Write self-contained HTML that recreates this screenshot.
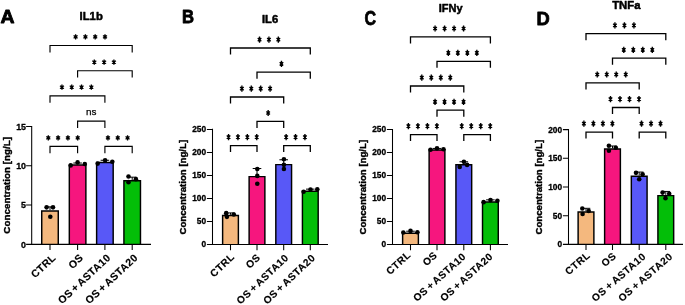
<!DOCTYPE html><html><head><meta charset="utf-8"><title>fig</title><style>
html,body{margin:0;padding:0;background:#fff;}svg{display:block}
text{font-family:"Liberation Sans",sans-serif;fill:#000}
.b{font-weight:bold;stroke:#000;stroke-width:0.3px;stroke-linejoin:round}
</style></head><body>
<svg width="685" height="305" viewBox="0 0 685 305" style="will-change:transform">
<rect width="685" height="305" fill="#fff"/>
<g>
<text class="b" transform="translate(0.5 23.2) scale(1.05 1)" font-size="18.5" style="stroke-width:0.8px">A</text>
<text class="b" x="91.2" y="19.8" font-size="11.3" style="stroke-width:0.5px" text-anchor="middle">IL1b</text>
<path d="M41.73 244.35V210.9H58.27V244.35" fill="#F4B87E" stroke="#000" stroke-width="1.45"/>
<path d="M50 206.87V210.17M45.7 206.87H54.3" stroke="#000" stroke-width="1" fill="none"/>
<circle cx="46.6" cy="207.35" r="2.3" fill="#000"/>
<circle cx="53" cy="207.35" r="2.3" fill="#000"/>
<circle cx="50.3" cy="216.69" r="2.3" fill="#000"/>
<path d="M69.32 244.35V164.94H85.88V244.35" fill="#F6167E" stroke="#000" stroke-width="1.45"/>
<path d="M77.6 163.03V164.21M73.3 163.03H81.9" stroke="#000" stroke-width="1" fill="none"/>
<circle cx="70.7" cy="165.39" r="2.3" fill="#000"/>
<circle cx="77.6" cy="162.4" r="2.3" fill="#000"/>
<circle cx="84.8" cy="164.05" r="2.3" fill="#000"/>
<path d="M96.62 244.35V162.58H113.18V244.35" fill="#5858F7" stroke="#000" stroke-width="1.45"/>
<path d="M104.9 160.28V161.85M100.6 160.28H109.2" stroke="#000" stroke-width="1" fill="none"/>
<circle cx="97.7" cy="163.58" r="2.3" fill="#000"/>
<circle cx="105.1" cy="160.36" r="2.3" fill="#000"/>
<circle cx="112.3" cy="161.7" r="2.3" fill="#000"/>
<path d="M123.92 244.35V180.65H140.47V244.35" fill="#03BE08" stroke="#000" stroke-width="1.45"/>
<path d="M132.2 177.18V179.93M127.9 177.18H136.5" stroke="#000" stroke-width="1" fill="none"/>
<circle cx="128.5" cy="176.47" r="2.3" fill="#000"/>
<circle cx="128.5" cy="182.13" r="2.3" fill="#000"/>
<circle cx="135.9" cy="179.14" r="2.3" fill="#000"/>
<path d="M31.7 125.9V244.35M31.1 244.35H151M26.1 244.35H31.7M26.1 205.07H31.7M26.1 165.78H31.7M26.1 126.5H31.7M50 244.35V250.05M77.6 244.35V250.05M104.9 244.35V250.05M132.2 244.35V250.05" stroke="#000" stroke-width="1.05" fill="none"/>
<text class="b" x="26" y="247.55" font-size="8.9" text-anchor="end">0</text>
<text class="b" x="26" y="208.27" font-size="8.9" text-anchor="end">5</text>
<text class="b" x="26" y="168.99" font-size="8.9" text-anchor="end">10</text>
<text class="b" x="26" y="129.7" font-size="8.9" text-anchor="end">15</text>
<text class="b" transform="translate(9.5 185.3) rotate(-90)" font-size="9.85" style="stroke-width:0.4px" text-anchor="middle">Concentration [ng/L]</text>
<text class="b" transform="translate(56.4 258.55) rotate(-43)" font-size="10.5" letter-spacing="0.35" word-spacing="-1.3" style="stroke-width:0.15px" text-anchor="end">CTRL</text>
<text class="b" transform="translate(84 258.55) rotate(-43)" font-size="10.5" letter-spacing="0.35" word-spacing="-1.3" style="stroke-width:0.15px" text-anchor="end">OS</text>
<text class="b" transform="translate(111.3 258.55) rotate(-43)" font-size="10.5" letter-spacing="0.35" word-spacing="-1.3" style="stroke-width:0.15px" text-anchor="end">OS + ASTA10</text>
<text class="b" transform="translate(138.6 258.55) rotate(-43)" font-size="10.5" letter-spacing="0.35" word-spacing="-1.3" style="stroke-width:0.15px" text-anchor="end">OS + ASTA20</text>
<path d="M50 52.4V45.5H132.2V52.4" stroke="#000" stroke-width="1.15" fill="none"/>
<path d="M75.6 34.25V39.55M73.6 35.52L77.6 38.28M73.6 38.28L77.6 35.52" stroke="#000" stroke-width="1.3" fill="none"/><circle cx="75.6" cy="36.9" r="1.3"/>
<path d="M85.4 34.25V39.55M83.4 35.52L87.4 38.28M83.4 38.28L87.4 35.52" stroke="#000" stroke-width="1.3" fill="none"/><circle cx="85.4" cy="36.9" r="1.3"/>
<path d="M95.2 34.25V39.55M93.2 35.52L97.2 38.28M93.2 38.28L97.2 35.52" stroke="#000" stroke-width="1.3" fill="none"/><circle cx="95.2" cy="36.9" r="1.3"/>
<path d="M105 34.25V39.55M103 35.52L107 38.28M103 38.28L107 35.52" stroke="#000" stroke-width="1.3" fill="none"/><circle cx="105" cy="36.9" r="1.3"/>
<path d="M77.6 77.6V70.7H132.2V77.6" stroke="#000" stroke-width="1.15" fill="none"/>
<path d="M94.3 59.45V64.75M92.3 60.72L96.3 63.48M92.3 63.48L96.3 60.72" stroke="#000" stroke-width="1.3" fill="none"/><circle cx="94.3" cy="62.1" r="1.3"/>
<path d="M104.1 59.45V64.75M102.1 60.72L106.1 63.48M102.1 63.48L106.1 60.72" stroke="#000" stroke-width="1.3" fill="none"/><circle cx="104.1" cy="62.1" r="1.3"/>
<path d="M113.9 59.45V64.75M111.9 60.72L115.9 63.48M111.9 63.48L115.9 60.72" stroke="#000" stroke-width="1.3" fill="none"/><circle cx="113.9" cy="62.1" r="1.3"/>
<path d="M50 102.7V95.8H104.9V102.7" stroke="#000" stroke-width="1.15" fill="none"/>
<path d="M61.95 84.55V89.85M59.95 85.82L63.95 88.58M59.95 88.58L63.95 85.82" stroke="#000" stroke-width="1.3" fill="none"/><circle cx="61.95" cy="87.2" r="1.3"/>
<path d="M71.75 84.55V89.85M69.75 85.82L73.75 88.58M69.75 88.58L73.75 85.82" stroke="#000" stroke-width="1.3" fill="none"/><circle cx="71.75" cy="87.2" r="1.3"/>
<path d="M81.55 84.55V89.85M79.55 85.82L83.55 88.58M79.55 88.58L83.55 85.82" stroke="#000" stroke-width="1.3" fill="none"/><circle cx="81.55" cy="87.2" r="1.3"/>
<path d="M91.35 84.55V89.85M89.35 85.82L93.35 88.58M89.35 88.58L93.35 85.82" stroke="#000" stroke-width="1.3" fill="none"/><circle cx="91.35" cy="87.2" r="1.3"/>
<path d="M77.6 128V121.1H104.9V128" stroke="#000" stroke-width="1.15" fill="none"/>
<text x="91.25" y="115.4" font-size="9.9" stroke="#000" stroke-width="0.25" text-anchor="middle">ns</text>
<path d="M50 153.3V146.4H77.6V153.3" stroke="#000" stroke-width="1.15" fill="none"/>
<path d="M48.3 135.15V140.45M46.3 136.42L50.3 139.18M46.3 139.18L50.3 136.42" stroke="#000" stroke-width="1.3" fill="none"/><circle cx="48.3" cy="137.8" r="1.3"/>
<path d="M58.1 135.15V140.45M56.1 136.42L60.1 139.18M56.1 139.18L60.1 136.42" stroke="#000" stroke-width="1.3" fill="none"/><circle cx="58.1" cy="137.8" r="1.3"/>
<path d="M67.9 135.15V140.45M65.9 136.42L69.9 139.18M65.9 139.18L69.9 136.42" stroke="#000" stroke-width="1.3" fill="none"/><circle cx="67.9" cy="137.8" r="1.3"/>
<path d="M77.7 135.15V140.45M75.7 136.42L79.7 139.18M75.7 139.18L79.7 136.42" stroke="#000" stroke-width="1.3" fill="none"/><circle cx="77.7" cy="137.8" r="1.3"/>
<path d="M104.9 153.3V146.4H132.2V153.3" stroke="#000" stroke-width="1.15" fill="none"/>
<path d="M107.95 135.15V140.45M105.95 136.42L109.95 139.18M105.95 139.18L109.95 136.42" stroke="#000" stroke-width="1.3" fill="none"/><circle cx="107.95" cy="137.8" r="1.3"/>
<path d="M117.75 135.15V140.45M115.75 136.42L119.75 139.18M115.75 139.18L119.75 136.42" stroke="#000" stroke-width="1.3" fill="none"/><circle cx="117.75" cy="137.8" r="1.3"/>
<path d="M127.55 135.15V140.45M125.55 136.42L129.55 139.18M125.55 139.18L129.55 136.42" stroke="#000" stroke-width="1.3" fill="none"/><circle cx="127.55" cy="137.8" r="1.3"/>
</g>
<g>
<text class="b" transform="translate(182 23.1) scale(0.92 1)" font-size="18.099999999999998" style="stroke-width:0.8px">B</text>
<text class="b" x="270.1" y="23.3" font-size="11.2" style="stroke-width:0.5px" text-anchor="middle">IL6</text>
<path d="M222.62 244.45V215.49H238.38V244.45" fill="#F4B87E" stroke="#000" stroke-width="1.45"/>
<path d="M230.5 212.93V214.77M226.2 212.93H234.8" stroke="#000" stroke-width="1" fill="none"/>
<circle cx="226.2" cy="213.16" r="2.3" fill="#000"/>
<circle cx="226.9" cy="216.84" r="2.3" fill="#000"/>
<circle cx="233.8" cy="214.54" r="2.3" fill="#000"/>
<path d="M249.12 244.45V176.61H264.88V244.45" fill="#F6167E" stroke="#000" stroke-width="1.45"/>
<path d="M257 168.52V175.88M252.7 168.52H261.3" stroke="#000" stroke-width="1" fill="none"/>
<circle cx="257.3" cy="168.98" r="2.3" fill="#000"/>
<circle cx="257.3" cy="175.88" r="2.3" fill="#000"/>
<circle cx="257.3" cy="183.7" r="2.3" fill="#000"/>
<path d="M275.82 244.45V164.64H291.57V244.45" fill="#5858F7" stroke="#000" stroke-width="1.45"/>
<path d="M283.7 159.77V163.91M279.4 159.77H288" stroke="#000" stroke-width="1" fill="none"/>
<circle cx="283.9" cy="159.31" r="2.3" fill="#000"/>
<circle cx="283.9" cy="164.84" r="2.3" fill="#000"/>
<circle cx="283.9" cy="168.98" r="2.3" fill="#000"/>
<path d="M302.43 244.45V191.24H318.18V244.45" fill="#03BE08" stroke="#000" stroke-width="1.45"/>
<path d="M310.3 189.13V190.51M306 189.13H314.6" stroke="#000" stroke-width="1" fill="none"/>
<circle cx="303.6" cy="191.76" r="2.3" fill="#000"/>
<circle cx="310.5" cy="189.46" r="2.3" fill="#000"/>
<circle cx="317.3" cy="189.23" r="2.3" fill="#000"/>
<path d="M212.5 128.8V244.45M211.9 244.45H328M206.9 244.45H212.5M206.9 221.44H212.5M206.9 198.43H212.5M206.9 175.42H212.5M206.9 152.41H212.5M206.9 129.4H212.5M230.5 244.45V250.15M257 244.45V250.15M283.7 244.45V250.15M310.3 244.45V250.15" stroke="#000" stroke-width="1.05" fill="none"/>
<text class="b" x="206" y="247.44" font-size="8.3" text-anchor="end">0</text>
<text class="b" x="206" y="224.43" font-size="8.3" text-anchor="end">50</text>
<text class="b" x="206" y="201.42" font-size="8.3" text-anchor="end">100</text>
<text class="b" x="206" y="178.41" font-size="8.3" text-anchor="end">150</text>
<text class="b" x="206" y="155.4" font-size="8.3" text-anchor="end">200</text>
<text class="b" x="206" y="132.39" font-size="8.3" text-anchor="end">250</text>
<text class="b" transform="translate(186.4 187.2) rotate(-90)" font-size="9.65" style="stroke-width:0.4px" text-anchor="middle">Concentration [ng/L]</text>
<text class="b" transform="translate(235.1 257.65) rotate(-43.5)" font-size="10.2" letter-spacing="0.5" word-spacing="-1.3" style="stroke-width:0.15px" text-anchor="end">CTRL</text>
<text class="b" transform="translate(261.1 258.15) rotate(-43.5)" font-size="10.2" letter-spacing="0.5" word-spacing="-1.3" style="stroke-width:0.15px" text-anchor="end">OS</text>
<text class="b" transform="translate(289.3 258.45) rotate(-43.5)" font-size="10.2" letter-spacing="0.5" word-spacing="-1.3" style="stroke-width:0.15px" text-anchor="end">OS + ASTA10</text>
<text class="b" transform="translate(315.9 258.45) rotate(-43.5)" font-size="10.2" letter-spacing="0.5" word-spacing="-1.3" style="stroke-width:0.15px" text-anchor="end">OS + ASTA20</text>
<path d="M230.5 54.5V48H310.3V54.5" stroke="#000" stroke-width="1.3" fill="none"/>
<path d="M259.53 36.5V42.7M257.73 37.99L261.33 41.21M257.73 41.21L261.33 37.99" stroke="#000" stroke-width="1.35" fill="none"/><circle cx="259.53" cy="39.6" r="1.1"/>
<path d="M268.93 36.5V42.7M267.13 37.99L270.73 41.21M267.13 41.21L270.73 37.99" stroke="#000" stroke-width="1.35" fill="none"/><circle cx="268.93" cy="39.6" r="1.1"/>
<path d="M278.33 36.5V42.7M276.53 37.99L280.13 41.21M276.53 41.21L280.13 37.99" stroke="#000" stroke-width="1.35" fill="none"/><circle cx="278.33" cy="39.6" r="1.1"/>
<path d="M257 78.7V72.2H310.3V78.7" stroke="#000" stroke-width="1.3" fill="none"/>
<path d="M281.46 60.7V66.9M279.66 62.19L283.26 65.41M279.66 65.41L283.26 62.19" stroke="#000" stroke-width="1.35" fill="none"/><circle cx="281.46" cy="63.8" r="1.1"/>
<path d="M230.5 103.5V97H283.7V103.5" stroke="#000" stroke-width="1.3" fill="none"/>
<path d="M241.89 85.5V91.7M240.09 86.99L243.69 90.21M240.09 90.21L243.69 86.99" stroke="#000" stroke-width="1.35" fill="none"/><circle cx="241.89" cy="88.6" r="1.1"/>
<path d="M251.29 85.5V91.7M249.49 86.99L253.09 90.21M249.49 90.21L253.09 86.99" stroke="#000" stroke-width="1.35" fill="none"/><circle cx="251.29" cy="88.6" r="1.1"/>
<path d="M260.69 85.5V91.7M258.89 86.99L262.49 90.21M258.89 90.21L262.49 86.99" stroke="#000" stroke-width="1.35" fill="none"/><circle cx="260.69" cy="88.6" r="1.1"/>
<path d="M270.09 85.5V91.7M268.29 86.99L271.89 90.21M268.29 90.21L271.89 86.99" stroke="#000" stroke-width="1.35" fill="none"/><circle cx="270.09" cy="88.6" r="1.1"/>
<path d="M257 127.9V121.4H283.7V127.9" stroke="#000" stroke-width="1.3" fill="none"/>
<path d="M268.16 109.9V116.1M266.36 111.39L269.96 114.61M266.36 114.61L269.96 111.39" stroke="#000" stroke-width="1.35" fill="none"/><circle cx="268.16" cy="113" r="1.1"/>
<path d="M230.5 152.1V145.6H257V152.1" stroke="#000" stroke-width="1.3" fill="none"/>
<path d="M228.54 134.1V140.3M226.74 135.59L230.34 138.81M226.74 138.81L230.34 135.59" stroke="#000" stroke-width="1.35" fill="none"/><circle cx="228.54" cy="137.2" r="1.1"/>
<path d="M237.94 134.1V140.3M236.14 135.59L239.74 138.81M236.14 138.81L239.74 135.59" stroke="#000" stroke-width="1.35" fill="none"/><circle cx="237.94" cy="137.2" r="1.1"/>
<path d="M247.34 134.1V140.3M245.54 135.59L249.14 138.81M245.54 138.81L249.14 135.59" stroke="#000" stroke-width="1.35" fill="none"/><circle cx="247.34" cy="137.2" r="1.1"/>
<path d="M256.74 134.1V140.3M254.94 135.59L258.54 138.81M254.94 138.81L258.54 135.59" stroke="#000" stroke-width="1.35" fill="none"/><circle cx="256.74" cy="137.2" r="1.1"/>
<path d="M283.7 152.1V145.6H310.3V152.1" stroke="#000" stroke-width="1.3" fill="none"/>
<path d="M286.13 134.1V140.3M284.33 135.59L287.93 138.81M284.33 138.81L287.93 135.59" stroke="#000" stroke-width="1.35" fill="none"/><circle cx="286.13" cy="137.2" r="1.1"/>
<path d="M295.53 134.1V140.3M293.73 135.59L297.33 138.81M293.73 138.81L297.33 135.59" stroke="#000" stroke-width="1.35" fill="none"/><circle cx="295.53" cy="137.2" r="1.1"/>
<path d="M304.93 134.1V140.3M303.13 135.59L306.73 138.81M303.13 138.81L306.73 135.59" stroke="#000" stroke-width="1.35" fill="none"/><circle cx="304.93" cy="137.2" r="1.1"/>
</g>
<g>
<text class="b" transform="translate(364.4 24.9) scale(0.78 1)" font-size="20.599999999999998" style="stroke-width:0.8px">C</text>
<text class="b" x="450.7" y="12.3" font-size="11.0" style="stroke-width:0.5px" text-anchor="middle">IFNy</text>
<path d="M402.62 244.45V233.31H418.38V244.45" fill="#F4B87E" stroke="#000" stroke-width="1.45"/>
<path d="M410.5 231.21V232.59M406.2 231.21H414.8" stroke="#000" stroke-width="1" fill="none"/>
<circle cx="403.3" cy="232.5" r="2.3" fill="#000"/>
<circle cx="410.5" cy="230.89" r="2.3" fill="#000"/>
<circle cx="417.4" cy="232.27" r="2.3" fill="#000"/>
<path d="M429.12 244.45V150.09H444.88V244.45" fill="#F6167E" stroke="#000" stroke-width="1.45"/>
<path d="M437 148.44V149.36M432.7 148.44H441.3" stroke="#000" stroke-width="1" fill="none"/>
<circle cx="430.5" cy="149.73" r="2.3" fill="#000"/>
<circle cx="437" cy="148.35" r="2.3" fill="#000"/>
<circle cx="443.5" cy="149.27" r="2.3" fill="#000"/>
<path d="M455.93 244.45V164.8H471.68V244.45" fill="#5858F7" stroke="#000" stroke-width="1.45"/>
<path d="M463.8 161.78V164.08M459.5 161.78H468.1" stroke="#000" stroke-width="1" fill="none"/>
<circle cx="459.7" cy="166.88" r="2.3" fill="#000"/>
<circle cx="463.9" cy="161.69" r="2.3" fill="#000"/>
<circle cx="467.1" cy="164.9" r="2.3" fill="#000"/>
<path d="M482.52 244.45V201.95H498.27V244.45" fill="#03BE08" stroke="#000" stroke-width="1.45"/>
<path d="M490.4 199.85V201.23M486.1 199.85H494.7" stroke="#000" stroke-width="1" fill="none"/>
<circle cx="483.6" cy="202.15" r="2.3" fill="#000"/>
<circle cx="490.5" cy="200.08" r="2.3" fill="#000"/>
<circle cx="497.4" cy="200.77" r="2.3" fill="#000"/>
<path d="M392.5 128.9V244.45M391.9 244.45H508M386.9 244.45H392.5M386.9 221.46H392.5M386.9 198.47H392.5M386.9 175.48H392.5M386.9 152.49H392.5M386.9 129.5H392.5M410.5 244.45V250.15M437 244.45V250.15M463.8 244.45V250.15M490.4 244.45V250.15" stroke="#000" stroke-width="1.05" fill="none"/>
<text class="b" x="386" y="247.44" font-size="8.3" text-anchor="end">0</text>
<text class="b" x="386" y="224.45" font-size="8.3" text-anchor="end">50</text>
<text class="b" x="386" y="201.46" font-size="8.3" text-anchor="end">100</text>
<text class="b" x="386" y="178.47" font-size="8.3" text-anchor="end">150</text>
<text class="b" x="386" y="155.48" font-size="8.3" text-anchor="end">200</text>
<text class="b" x="386" y="132.49" font-size="8.3" text-anchor="end">250</text>
<text class="b" transform="translate(366.4 187.2) rotate(-90)" font-size="9.65" style="stroke-width:0.4px" text-anchor="middle">Concentration [ng/L]</text>
<text class="b" transform="translate(411.5 255.85) rotate(-42)" font-size="10.2" letter-spacing="0.45" word-spacing="-1.3" style="stroke-width:0.15px" text-anchor="end">CTRL</text>
<text class="b" transform="translate(438 256.15) rotate(-42)" font-size="10.2" letter-spacing="0.45" word-spacing="-1.3" style="stroke-width:0.15px" text-anchor="end">OS</text>
<text class="b" transform="translate(466.6 257.45) rotate(-42)" font-size="10.2" letter-spacing="0.45" word-spacing="-1.3" style="stroke-width:0.15px" text-anchor="end">OS + ASTA10</text>
<text class="b" transform="translate(493.5 257.45) rotate(-42)" font-size="10.2" letter-spacing="0.45" word-spacing="-1.3" style="stroke-width:0.15px" text-anchor="end">OS + ASTA20</text>
<path d="M410.5 43.4V36.9H490.4V43.4" stroke="#000" stroke-width="1.3" fill="none"/>
<path d="M435.09 25.4V31.6M433.29 26.89L436.89 30.11M433.29 30.11L436.89 26.89" stroke="#000" stroke-width="1.35" fill="none"/><circle cx="435.09" cy="28.5" r="1.1"/>
<path d="M444.59 25.4V31.6M442.79 26.89L446.39 30.11M442.79 30.11L446.39 26.89" stroke="#000" stroke-width="1.35" fill="none"/><circle cx="444.59" cy="28.5" r="1.1"/>
<path d="M454.09 25.4V31.6M452.29 26.89L455.89 30.11M452.29 30.11L455.89 26.89" stroke="#000" stroke-width="1.35" fill="none"/><circle cx="454.09" cy="28.5" r="1.1"/>
<path d="M463.59 25.4V31.6M461.79 26.89L465.39 30.11M461.79 30.11L465.39 26.89" stroke="#000" stroke-width="1.35" fill="none"/><circle cx="463.59" cy="28.5" r="1.1"/>
<path d="M437 67.8V61.3H490.4V67.8" stroke="#000" stroke-width="1.3" fill="none"/>
<path d="M448.34 49.8V56M446.54 51.29L450.14 54.51M446.54 54.51L450.14 51.29" stroke="#000" stroke-width="1.35" fill="none"/><circle cx="448.34" cy="52.9" r="1.1"/>
<path d="M457.84 49.8V56M456.04 51.29L459.64 54.51M456.04 54.51L459.64 51.29" stroke="#000" stroke-width="1.35" fill="none"/><circle cx="457.84" cy="52.9" r="1.1"/>
<path d="M467.34 49.8V56M465.54 51.29L469.14 54.51M465.54 54.51L469.14 51.29" stroke="#000" stroke-width="1.35" fill="none"/><circle cx="467.34" cy="52.9" r="1.1"/>
<path d="M476.84 49.8V56M475.04 51.29L478.64 54.51M475.04 54.51L478.64 51.29" stroke="#000" stroke-width="1.35" fill="none"/><circle cx="476.84" cy="52.9" r="1.1"/>
<path d="M410.5 92.5V86H463.8V92.5" stroke="#000" stroke-width="1.3" fill="none"/>
<path d="M421.79 74.5V80.7M419.99 75.99L423.59 79.21M419.99 79.21L423.59 75.99" stroke="#000" stroke-width="1.35" fill="none"/><circle cx="421.79" cy="77.6" r="1.1"/>
<path d="M431.29 74.5V80.7M429.49 75.99L433.09 79.21M429.49 79.21L433.09 75.99" stroke="#000" stroke-width="1.35" fill="none"/><circle cx="431.29" cy="77.6" r="1.1"/>
<path d="M440.79 74.5V80.7M438.99 75.99L442.59 79.21M438.99 79.21L442.59 75.99" stroke="#000" stroke-width="1.35" fill="none"/><circle cx="440.79" cy="77.6" r="1.1"/>
<path d="M450.29 74.5V80.7M448.49 75.99L452.09 79.21M448.49 79.21L452.09 75.99" stroke="#000" stroke-width="1.35" fill="none"/><circle cx="450.29" cy="77.6" r="1.1"/>
<path d="M437 116.7V110.2H463.8V116.7" stroke="#000" stroke-width="1.3" fill="none"/>
<path d="M435.04 98.7V104.9M433.24 100.19L436.84 103.41M433.24 103.41L436.84 100.19" stroke="#000" stroke-width="1.35" fill="none"/><circle cx="435.04" cy="101.8" r="1.1"/>
<path d="M444.54 98.7V104.9M442.74 100.19L446.34 103.41M442.74 103.41L446.34 100.19" stroke="#000" stroke-width="1.35" fill="none"/><circle cx="444.54" cy="101.8" r="1.1"/>
<path d="M454.04 98.7V104.9M452.24 100.19L455.84 103.41M452.24 103.41L455.84 100.19" stroke="#000" stroke-width="1.35" fill="none"/><circle cx="454.04" cy="101.8" r="1.1"/>
<path d="M463.54 98.7V104.9M461.74 100.19L465.34 103.41M461.74 103.41L465.34 100.19" stroke="#000" stroke-width="1.35" fill="none"/><circle cx="463.54" cy="101.8" r="1.1"/>
<path d="M410.5 141.1V134.6H437V141.1" stroke="#000" stroke-width="1.3" fill="none"/>
<path d="M408.39 123.1V129.3M406.59 124.59L410.19 127.81M406.59 127.81L410.19 124.59" stroke="#000" stroke-width="1.35" fill="none"/><circle cx="408.39" cy="126.2" r="1.1"/>
<path d="M417.89 123.1V129.3M416.09 124.59L419.69 127.81M416.09 127.81L419.69 124.59" stroke="#000" stroke-width="1.35" fill="none"/><circle cx="417.89" cy="126.2" r="1.1"/>
<path d="M427.39 123.1V129.3M425.59 124.59L429.19 127.81M425.59 127.81L429.19 124.59" stroke="#000" stroke-width="1.35" fill="none"/><circle cx="427.39" cy="126.2" r="1.1"/>
<path d="M436.89 123.1V129.3M435.09 124.59L438.69 127.81M435.09 127.81L438.69 124.59" stroke="#000" stroke-width="1.35" fill="none"/><circle cx="436.89" cy="126.2" r="1.1"/>
<path d="M463.8 141.1V134.6H490.4V141.1" stroke="#000" stroke-width="1.3" fill="none"/>
<path d="M461.74 123.1V129.3M459.94 124.59L463.54 127.81M459.94 127.81L463.54 124.59" stroke="#000" stroke-width="1.35" fill="none"/><circle cx="461.74" cy="126.2" r="1.1"/>
<path d="M471.24 123.1V129.3M469.44 124.59L473.04 127.81M469.44 127.81L473.04 124.59" stroke="#000" stroke-width="1.35" fill="none"/><circle cx="471.24" cy="126.2" r="1.1"/>
<path d="M480.74 123.1V129.3M478.94 124.59L482.54 127.81M478.94 127.81L482.54 124.59" stroke="#000" stroke-width="1.35" fill="none"/><circle cx="480.74" cy="126.2" r="1.1"/>
<path d="M490.24 123.1V129.3M488.44 124.59L492.04 127.81M488.44 127.81L492.04 124.59" stroke="#000" stroke-width="1.35" fill="none"/><circle cx="490.24" cy="126.2" r="1.1"/>
</g>
<g>
<text class="b" transform="translate(536.4 24.7) scale(0.98 1)" font-size="18.7" style="stroke-width:0.8px">D</text>
<text class="b" x="626.3" y="8.5" font-size="11.3" style="stroke-width:0.5px" text-anchor="middle">TNFa</text>
<path d="M578.12 244.35V211.91H593.88V244.35" fill="#F4B87E" stroke="#000" stroke-width="1.45"/>
<path d="M586 208.32V211.19M581.7 208.32H590.3" stroke="#000" stroke-width="1" fill="none"/>
<circle cx="582.3" cy="208.55" r="2.3" fill="#000"/>
<circle cx="582.6" cy="213.94" r="2.3" fill="#000"/>
<circle cx="588.7" cy="210.96" r="2.3" fill="#000"/>
<path d="M604.62 244.35V149.03H620.38V244.35" fill="#F6167E" stroke="#000" stroke-width="1.45"/>
<path d="M612.5 146.01V148.3M608.2 146.01H616.8" stroke="#000" stroke-width="1" fill="none"/>
<circle cx="608.9" cy="145.78" r="2.3" fill="#000"/>
<circle cx="608.9" cy="150.71" r="2.3" fill="#000"/>
<circle cx="615.8" cy="147.79" r="2.3" fill="#000"/>
<path d="M631.33 244.35V176.22H647.08V244.35" fill="#5858F7" stroke="#000" stroke-width="1.45"/>
<path d="M639.2 172.06V175.5M634.9 172.06H643.5" stroke="#000" stroke-width="1" fill="none"/>
<circle cx="636" cy="172.86" r="2.3" fill="#000"/>
<circle cx="639.2" cy="179.29" r="2.3" fill="#000"/>
<circle cx="642.6" cy="174.35" r="2.3" fill="#000"/>
<path d="M657.92 244.35V195.62H673.67V244.35" fill="#03BE08" stroke="#000" stroke-width="1.45"/>
<path d="M665.8 191.45V194.89M661.5 191.45H670.1" stroke="#000" stroke-width="1" fill="none"/>
<circle cx="662.6" cy="192.6" r="2.3" fill="#000"/>
<circle cx="665.5" cy="198.16" r="2.3" fill="#000"/>
<circle cx="669.2" cy="193.75" r="2.3" fill="#000"/>
<path d="M568.5 129V244.35M567.9 244.35H683M562.9 244.35H568.5M562.9 215.66H568.5M562.9 186.97H568.5M562.9 158.29H568.5M562.9 129.6H568.5M586 244.35V250.05M612.5 244.35V250.05M639.2 244.35V250.05M665.8 244.35V250.05" stroke="#000" stroke-width="1.05" fill="none"/>
<text class="b" x="562" y="247.34" font-size="8.3" text-anchor="end">0</text>
<text class="b" x="562" y="218.65" font-size="8.3" text-anchor="end">50</text>
<text class="b" x="562" y="189.96" font-size="8.3" text-anchor="end">100</text>
<text class="b" x="562" y="161.28" font-size="8.3" text-anchor="end">150</text>
<text class="b" x="562" y="132.59" font-size="8.3" text-anchor="end">200</text>
<text class="b" transform="translate(542.4 187.2) rotate(-90)" font-size="9.65" style="stroke-width:0.4px" text-anchor="middle">Concentration [ng/L]</text>
<text class="b" transform="translate(591 256.15) rotate(-41)" font-size="10.2" letter-spacing="0.6" word-spacing="-1.3" style="stroke-width:0.15px" text-anchor="end">CTRL</text>
<text class="b" transform="translate(617.1 256.85) rotate(-41)" font-size="10.2" letter-spacing="0.6" word-spacing="-1.3" style="stroke-width:0.15px" text-anchor="end">OS</text>
<text class="b" transform="translate(646.8 257.35) rotate(-41)" font-size="10.2" letter-spacing="0.6" word-spacing="-1.3" style="stroke-width:0.15px" text-anchor="end">OS + ASTA10</text>
<text class="b" transform="translate(673.4 257.35) rotate(-41)" font-size="10.2" letter-spacing="0.6" word-spacing="-1.3" style="stroke-width:0.15px" text-anchor="end">OS + ASTA20</text>
<path d="M586 40.2V33.7H665.8V40.2" stroke="#000" stroke-width="1.3" fill="none"/>
<path d="M614.93 22.2V28.4M613.13 23.69L616.73 26.91M613.13 26.91L616.73 23.69" stroke="#000" stroke-width="1.35" fill="none"/><circle cx="614.93" cy="25.3" r="1.1"/>
<path d="M624.43 22.2V28.4M622.63 23.69L626.23 26.91M622.63 26.91L626.23 23.69" stroke="#000" stroke-width="1.35" fill="none"/><circle cx="624.43" cy="25.3" r="1.1"/>
<path d="M633.93 22.2V28.4M632.13 23.69L635.73 26.91M632.13 26.91L635.73 23.69" stroke="#000" stroke-width="1.35" fill="none"/><circle cx="633.93" cy="25.3" r="1.1"/>
<path d="M612.5 64.7V58.2H665.8V64.7" stroke="#000" stroke-width="1.3" fill="none"/>
<path d="M623.79 46.7V52.9M621.99 48.19L625.59 51.41M621.99 51.41L625.59 48.19" stroke="#000" stroke-width="1.35" fill="none"/><circle cx="623.79" cy="49.8" r="1.1"/>
<path d="M633.29 46.7V52.9M631.49 48.19L635.09 51.41M631.49 51.41L635.09 48.19" stroke="#000" stroke-width="1.35" fill="none"/><circle cx="633.29" cy="49.8" r="1.1"/>
<path d="M642.79 46.7V52.9M640.99 48.19L644.59 51.41M640.99 51.41L644.59 48.19" stroke="#000" stroke-width="1.35" fill="none"/><circle cx="642.79" cy="49.8" r="1.1"/>
<path d="M652.29 46.7V52.9M650.49 48.19L654.09 51.41M650.49 51.41L654.09 48.19" stroke="#000" stroke-width="1.35" fill="none"/><circle cx="652.29" cy="49.8" r="1.1"/>
<path d="M586 89.4V82.9H639.2V89.4" stroke="#000" stroke-width="1.3" fill="none"/>
<path d="M597.24 71.4V77.6M595.44 72.89L599.04 76.11M595.44 76.11L599.04 72.89" stroke="#000" stroke-width="1.35" fill="none"/><circle cx="597.24" cy="74.5" r="1.1"/>
<path d="M606.74 71.4V77.6M604.94 72.89L608.54 76.11M604.94 76.11L608.54 72.89" stroke="#000" stroke-width="1.35" fill="none"/><circle cx="606.74" cy="74.5" r="1.1"/>
<path d="M616.24 71.4V77.6M614.44 72.89L618.04 76.11M614.44 76.11L618.04 72.89" stroke="#000" stroke-width="1.35" fill="none"/><circle cx="616.24" cy="74.5" r="1.1"/>
<path d="M625.74 71.4V77.6M623.94 72.89L627.54 76.11M623.94 76.11L627.54 72.89" stroke="#000" stroke-width="1.35" fill="none"/><circle cx="625.74" cy="74.5" r="1.1"/>
<path d="M612.5 114V107.5H639.2V114" stroke="#000" stroke-width="1.3" fill="none"/>
<path d="M610.49 96V102.2M608.69 97.49L612.29 100.71M608.69 100.71L612.29 97.49" stroke="#000" stroke-width="1.35" fill="none"/><circle cx="610.49" cy="99.1" r="1.1"/>
<path d="M619.99 96V102.2M618.19 97.49L621.79 100.71M618.19 100.71L621.79 97.49" stroke="#000" stroke-width="1.35" fill="none"/><circle cx="619.99" cy="99.1" r="1.1"/>
<path d="M629.49 96V102.2M627.69 97.49L631.29 100.71M627.69 100.71L631.29 97.49" stroke="#000" stroke-width="1.35" fill="none"/><circle cx="629.49" cy="99.1" r="1.1"/>
<path d="M638.99 96V102.2M637.19 97.49L640.79 100.71M637.19 100.71L640.79 97.49" stroke="#000" stroke-width="1.35" fill="none"/><circle cx="638.99" cy="99.1" r="1.1"/>
<path d="M586 138.6V132.1H612.5V138.6" stroke="#000" stroke-width="1.3" fill="none"/>
<path d="M583.89 120.6V126.8M582.09 122.09L585.69 125.31M582.09 125.31L585.69 122.09" stroke="#000" stroke-width="1.35" fill="none"/><circle cx="583.89" cy="123.7" r="1.1"/>
<path d="M593.39 120.6V126.8M591.59 122.09L595.19 125.31M591.59 125.31L595.19 122.09" stroke="#000" stroke-width="1.35" fill="none"/><circle cx="593.39" cy="123.7" r="1.1"/>
<path d="M602.89 120.6V126.8M601.09 122.09L604.69 125.31M601.09 125.31L604.69 122.09" stroke="#000" stroke-width="1.35" fill="none"/><circle cx="602.89" cy="123.7" r="1.1"/>
<path d="M612.39 120.6V126.8M610.59 122.09L614.19 125.31M610.59 125.31L614.19 122.09" stroke="#000" stroke-width="1.35" fill="none"/><circle cx="612.39" cy="123.7" r="1.1"/>
<path d="M639.2 138.6V132.1H665.8V138.6" stroke="#000" stroke-width="1.3" fill="none"/>
<path d="M641.53 120.6V126.8M639.73 122.09L643.33 125.31M639.73 125.31L643.33 122.09" stroke="#000" stroke-width="1.35" fill="none"/><circle cx="641.53" cy="123.7" r="1.1"/>
<path d="M651.03 120.6V126.8M649.23 122.09L652.83 125.31M649.23 125.31L652.83 122.09" stroke="#000" stroke-width="1.35" fill="none"/><circle cx="651.03" cy="123.7" r="1.1"/>
<path d="M660.53 120.6V126.8M658.73 122.09L662.33 125.31M658.73 125.31L662.33 122.09" stroke="#000" stroke-width="1.35" fill="none"/><circle cx="660.53" cy="123.7" r="1.1"/>
</g>
</svg></body></html>
